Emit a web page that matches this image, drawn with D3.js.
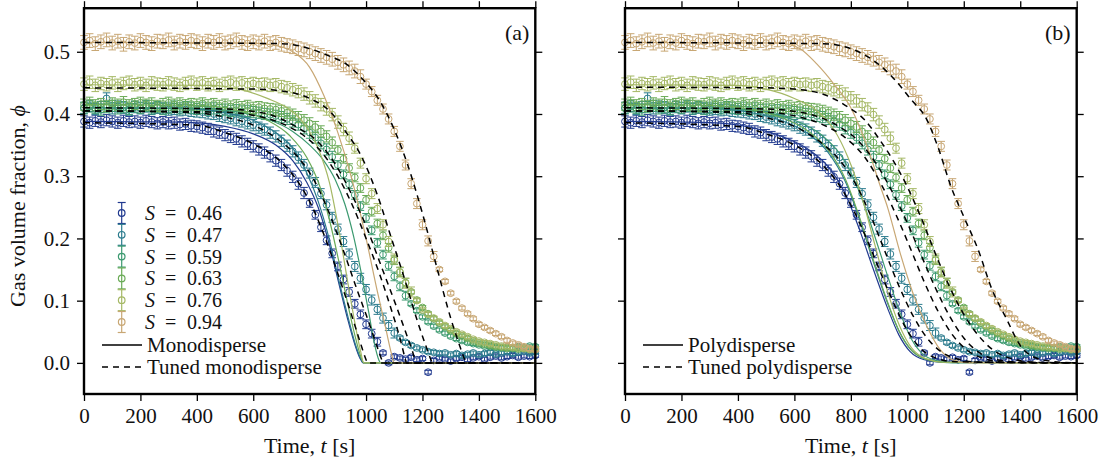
<!DOCTYPE html>
<html>
<head>
<meta charset="utf-8">
<script src="https://cdn.jsdelivr.net/npm/d3@7"></script>
<style>
  body { margin: 0; background: #fff; }
  svg, svg text { font-family: "Liberation Serif", "Times New Roman", Times, "DejaVu Serif", serif; }
  text { fill: #111; }
</style>
</head>
<body>
<svg id="chart" width="1106" height="465" font-family="Liberation Serif, Times New Roman, serif"></svg>
<script>
// sample times of the measurements [s]
const times = [0,20,40,60,80,100,120,140,160,180,200,220,240,260,280,300,320,340,360,380,
  400,420,440,460,480,500,520,540,560,580,600,620,640,660,680,700,720,740,760,780,
  800,820,840,860,880,900,920,940,960,980,1000,1020,1040,1060,1080,1100,1120,1140,1160,1180,
  1200,1220,1240,1260,1280,1300,1320,1340,1360,1380,1400,1420,1440,1460,1480,1500,1520,1540,1560,1580,1600];

const sLabels = ["0.46", "0.47", "0.59", "0.63", "0.76", "0.94"];
const colors = ["#213a8f", "#2b7b8d", "#3c9a70", "#6aab57", "#a5b865", "#c8a774"];
const FONT = '"Liberation Serif", "Times New Roman", serif';

// measured gas volume fraction
const phi046 = [0.388,0.386,0.389,0.387,0.390,0.388,0.386,0.389,0.387,0.388,0.386,0.389,0.387,0.385,0.387,0.385,0.386,0.383,0.384,0.381,
  0.380,0.378,0.376,0.372,0.370,0.366,0.363,0.360,0.356,0.352,0.348,0.343,0.338,0.332,0.325,0.318,0.309,0.299,0.288,0.273,
  0.257,0.238,0.218,0.197,0.176,0.155,0.134,0.114,0.095,0.078,0.062,0.047,0.034,0.016,0.000,0.010,0.008,0.006,0.009,0.005,
  0.007,-0.015,0.004,0.008,0.006,0.003,0.007,0.009,0.005,0.008,0.010,0.006,0.009,0.011,0.008,0.010,0.012,0.009,0.011,0.010,0.012];
const phi047 = [0.410,0.413,0.408,0.411,0.425,0.409,0.412,0.410,0.407,0.411,0.409,0.412,0.408,0.410,0.409,0.407,0.408,0.406,0.407,0.405,
  0.404,0.403,0.401,0.400,0.397,0.395,0.393,0.390,0.388,0.385,0.382,0.378,0.375,0.370,0.364,0.357,0.349,0.340,0.330,0.318,
  0.305,0.290,0.272,0.254,0.234,0.215,0.195,0.175,0.155,0.136,0.118,0.101,0.086,0.072,0.060,0.048,0.040,0.033,0.028,0.024,
  0.021,0.018,0.017,0.015,0.016,0.013,0.015,0.012,0.014,0.016,0.013,0.015,0.017,0.014,0.016,0.018,0.015,0.017,0.019,0.016,0.018];
const phi059 = [0.409,0.412,0.410,0.407,0.411,0.413,0.409,0.411,0.408,0.412,0.410,0.413,0.409,0.411,0.408,0.410,0.412,0.409,0.411,0.410,
  0.408,0.410,0.407,0.409,0.406,0.407,0.405,0.406,0.404,0.405,0.403,0.402,0.400,0.399,0.397,0.395,0.392,0.388,0.383,0.377,
  0.370,0.362,0.353,0.343,0.331,0.318,0.303,0.287,0.270,0.252,0.233,0.213,0.193,0.174,0.156,0.139,0.123,0.108,0.095,0.084,
  0.074,0.066,0.059,0.053,0.048,0.043,0.039,0.036,0.033,0.031,0.029,0.027,0.026,0.025,0.024,0.025,0.023,0.026,0.024,0.027,0.026];
const phi063 = [0.415,0.418,0.414,0.416,0.413,0.417,0.415,0.419,0.414,0.416,0.418,0.415,0.417,0.413,0.416,0.418,0.415,0.417,0.414,0.416,
  0.415,0.417,0.414,0.416,0.413,0.415,0.412,0.414,0.411,0.413,0.410,0.411,0.409,0.408,0.407,0.405,0.402,0.399,0.395,0.390,
  0.385,0.379,0.372,0.364,0.354,0.342,0.328,0.313,0.298,0.281,0.262,0.243,0.224,0.205,0.185,0.165,0.146,0.129,0.114,0.101,
  0.089,0.079,0.071,0.064,0.058,0.052,0.047,0.043,0.039,0.035,0.032,0.030,0.028,0.026,0.025,0.023,0.024,0.022,0.023,0.021,0.022];
const phi076 = [0.448,0.451,0.446,0.449,0.447,0.450,0.446,0.449,0.451,0.447,0.449,0.446,0.450,0.448,0.447,0.450,0.448,0.446,0.449,0.451,
  0.448,0.450,0.447,0.449,0.446,0.449,0.451,0.448,0.450,0.447,0.449,0.447,0.448,0.446,0.447,0.444,0.442,0.439,0.436,0.432,
  0.426,0.421,0.415,0.408,0.399,0.387,0.375,0.361,0.345,0.321,0.296,0.272,0.248,0.222,0.195,0.167,0.146,0.128,0.114,0.100,
  0.085,0.078,0.072,0.066,0.060,0.055,0.050,0.046,0.042,0.038,0.035,0.033,0.031,0.029,0.027,0.026,0.025,0.024,0.023,0.022,0.023];
const phi094 = [0.515,0.518,0.513,0.516,0.519,0.514,0.517,0.512,0.516,0.514,0.518,0.515,0.513,0.517,0.516,0.519,0.514,0.517,0.515,0.518,
  0.516,0.513,0.517,0.515,0.518,0.514,0.516,0.519,0.515,0.513,0.516,0.514,0.517,0.513,0.515,0.512,0.510,0.508,0.505,0.503,
  0.500,0.497,0.494,0.491,0.488,0.483,0.479,0.474,0.469,0.460,0.448,0.436,0.422,0.408,0.392,0.372,0.348,0.318,0.288,0.256,
  0.222,0.196,0.171,0.150,0.131,0.112,0.099,0.088,0.079,0.071,0.062,0.057,0.052,0.047,0.042,0.036,0.032,0.029,0.026,0.023,0.021];

// error bar half-heights: [from time, size]
const err046 = [[0, 0.009], [800, 0.007], [1060, 0.003]];
const err047 = [[0, 0.009], [800, 0.008], [1120, 0.003]];
const err059 = [[0, 0.009], [900, 0.007], [1150, 0.003]];
const err063 = [[0, 0.009], [900, 0.007], [1150, 0.003]];
const err076 = [[0, 0.010], [950, 0.008], [1180, 0.003]];
const err094 = [[0, 0.011], [1000, 0.008], [1250, 0.003]];

// monodisperse model
const mono046 = [[0,0.388],[350,0.387],[500,0.38],[600,0.368],[680,0.35],[740,0.325],[790,0.29],[830,0.25],[870,0.19],[905,0.125],[935,0.07],[960,0.03],[978,0.008],[990,0],[1600,0]];
const mono047 = [[0,0.41],[350,0.409],[500,0.402],[600,0.39],[680,0.37],[740,0.345],[790,0.305],[830,0.26],[870,0.198],[905,0.13],[937,0.072],[962,0.03],[980,0.008],[992,0],[1600,0]];
const mono059 = [[0,0.41],[400,0.409],[550,0.403],[650,0.392],[740,0.372],[800,0.35],[850,0.325],[890,0.295],[925,0.255],[955,0.205],[985,0.14],[1010,0.08],[1030,0.03],[1045,0.005],[1052,0],[1600,0]];
const mono063 = [[0,0.415],[400,0.414],[550,0.405],[650,0.39],[730,0.365],[790,0.33],[835,0.285],[870,0.23],[905,0.16],[935,0.095],[960,0.045],[980,0.012],[992,0],[1600,0]];
const mono076 = [[0,0.447],[450,0.446],[550,0.44],[650,0.425],[720,0.41],[780,0.385],[830,0.345],[870,0.29],[905,0.21],[935,0.13],[960,0.065],[980,0.02],[992,0],[1600,0]];
const mono094 = [[0,0.515],[600,0.514],[680,0.51],[740,0.5],[800,0.475],[850,0.43],[900,0.37],[950,0.295],[1000,0.2],[1040,0.115],[1070,0.055],[1090,0.015],[1100,0],[1600,0]];

// tuned monodisperse model
const tmono046 = [[0,0.386],[400,0.382],[500,0.37],[600,0.352],[700,0.322],[760,0.29],[810,0.25],[860,0.195],[910,0.13],[950,0.075],[980,0.032],[1000,0.005],[1005,0],[1600,0]];
const tmono047 = [[0,0.405],[400,0.402],[500,0.395],[600,0.382],[700,0.355],[760,0.33],[820,0.29],[870,0.24],[920,0.18],[970,0.115],[1010,0.065],[1040,0.025],[1058,0.003],[1062,0],[1600,0]];
const tmono059 = [[0,0.405],[500,0.403],[600,0.398],[700,0.385],[780,0.365],[840,0.34],[900,0.3],[950,0.255],[1000,0.2],[1050,0.14],[1090,0.085],[1120,0.04],[1138,0.008],[1143,0],[1600,0]];
const tmono063 = [[0,0.41],[500,0.408],[650,0.4],[750,0.38],[830,0.355],[890,0.32],[950,0.27],[1000,0.22],[1050,0.16],[1100,0.1],[1140,0.05],[1165,0.018],[1178,0],[1600,0]];
const tmono076 = [[0,0.442],[600,0.44],[700,0.437],[800,0.425],[870,0.405],[930,0.37],[980,0.335],[1040,0.27],[1090,0.2],[1140,0.13],[1180,0.07],[1210,0.03],[1230,0.005],[1235,0],[1600,0]];
const tmono094 = [[0,0.515],[700,0.513],[800,0.505],[870,0.493],[930,0.48],[990,0.455],[1050,0.42],[1100,0.375],[1150,0.315],[1200,0.24],[1250,0.155],[1300,0.072],[1330,0.03],[1350,0.005],[1355,0],[1600,0]];

// polydisperse model
const poly046 = [[0,0.388],[300,0.386],[450,0.378],[550,0.365],[650,0.343],[720,0.315],[780,0.272],[830,0.215],[880,0.15],[930,0.088],[970,0.045],[1010,0.018],[1060,0.005],[1120,0.001],[1600,0]];
const poly047 = [[0,0.41],[300,0.409],[450,0.402],[550,0.39],[650,0.368],[720,0.338],[780,0.292],[830,0.232],[880,0.162],[930,0.096],[972,0.05],[1015,0.02],[1065,0.006],[1130,0.001],[1600,0]];
const poly059 = [[0,0.41],[350,0.409],[500,0.402],[600,0.39],[700,0.365],[770,0.33],[830,0.275],[880,0.21],[930,0.14],[975,0.08],[1015,0.038],[1055,0.014],[1100,0.004],[1160,0],[1600,0]];
const poly063 = [[0,0.415],[300,0.414],[450,0.407],[550,0.395],[650,0.372],[720,0.342],[780,0.296],[830,0.235],[880,0.165],[930,0.098],[972,0.05],[1015,0.02],[1065,0.006],[1130,0.001],[1600,0]];
const poly076 = [[0,0.447],[400,0.446],[500,0.44],[600,0.425],[680,0.405],[740,0.375],[790,0.33],[840,0.265],[885,0.19],[930,0.115],[972,0.06],[1015,0.024],[1065,0.007],[1130,0.001],[1600,0]];
const poly094 = [[0,0.515],[550,0.514],[620,0.505],[680,0.48],[740,0.448],[800,0.41],[860,0.345],[905,0.283],[930,0.25],[975,0.176],[1020,0.112],[1070,0.058],[1115,0.022],[1160,0.005],[1220,0],[1600,0]];

// tuned polydisperse model
const tpoly046 = [[0,0.386],[400,0.38],[500,0.368],[600,0.35],[700,0.318],[760,0.285],[810,0.245],[860,0.195],[910,0.14],[960,0.088],[1000,0.052],[1050,0.022],[1100,0.008],[1170,0.002],[1600,0]];
const tpoly047 = [[0,0.405],[400,0.402],[500,0.394],[600,0.38],[700,0.352],[760,0.326],[820,0.285],[870,0.237],[920,0.18],[970,0.124],[1020,0.076],[1070,0.04],[1120,0.018],[1180,0.006],[1260,0.001],[1600,0]];
const tpoly059 = [[0,0.405],[500,0.403],[600,0.397],[700,0.383],[780,0.362],[850,0.33],[910,0.285],[960,0.238],[1010,0.185],[1060,0.13],[1110,0.082],[1160,0.045],[1210,0.021],[1270,0.007],[1350,0.001],[1600,0]];
const tpoly063 = [[0,0.41],[500,0.408],[650,0.4],[750,0.382],[830,0.355],[890,0.32],[950,0.272],[1000,0.225],[1050,0.172],[1100,0.12],[1150,0.075],[1200,0.04],[1250,0.018],[1310,0.006],[1400,0.001],[1600,0]];
const tpoly076 = [[0,0.443],[500,0.442],[600,0.44],[700,0.432],[780,0.414],[850,0.39],[900,0.36],[950,0.325],[1000,0.283],[1050,0.232],[1100,0.175],[1150,0.122],[1200,0.078],[1250,0.045],[1300,0.022],[1360,0.008],[1450,0.001],[1600,0]];
const tpoly094 = [[0,0.515],[700,0.513],[800,0.505],[880,0.486],[950,0.458],[1010,0.425],[1070,0.39],[1110,0.345],[1155,0.283],[1200,0.235],[1250,0.183],[1300,0.118],[1350,0.072],[1400,0.028],[1450,0.009],[1520,0.002],[1600,0]];

const xTicks = [0, 200, 400, 600, 800, 1000, 1200, 1400, 1600];
const yTicks = [0.0, 0.1, 0.2, 0.3, 0.4, 0.5];

const series = [phi046, phi047, phi059, phi063, phi076, phi094];
const errors = [err046, err047, err059, err063, err076, err094];

const panels = [
  { left: 84, right: 535.3, tag: "(a)", yLabels: true, showSeries: true,
    solid: [mono046, mono047, mono059, mono063, mono076, mono094],
    dashed: [tmono046, tmono047, tmono059, tmono063, tmono076, tmono094],
    names: ["Monodisperse", "Tuned monodisperse"], legX: 102 },
  { left: 625, right: 1076.7, tag: "(b)", yLabels: false, showSeries: false,
    solid: [poly046, poly047, poly059, poly063, poly076, poly094],
    dashed: [tpoly046, tpoly047, tpoly059, tpoly063, tpoly076, tpoly094],
    names: ["Polydisperse", "Tuned polydisperse"], legX: 643 }
];

const plotTop = 8.2, plotBottom = 394;
const svg = d3.select("#chart");
const y = d3.scaleLinear().domain([-0.05, 0.57]).range([plotBottom, plotTop]);

function errAt(steps, t) {
  let e = steps[0][1];
  steps.forEach(s => { if (t >= s[0]) e = s[1]; });
  return e;
}

function label(x, yy, size) {
  return svg.append("text").attr("x", x).attr("y", yy)
    .attr("font-size", size).attr("font-family", FONT).style("font-family", FONT);
}

panels.forEach(p => {
  const x = d3.scaleLinear().domain([0, 1600]).range([p.left, p.right]);
  const g = svg.append("g");

  // measurements with error bars
  series.forEach((vals, i) => {
    const sg = g.append("g").attr("stroke", colors[i]).attr("fill", "none").attr("stroke-width", 1);
    vals.forEach((v, j) => {
      const t = times[j];
      const e = errAt(errors[i], t);
      const cx = x(t);
      sg.append("line").attr("x1", cx).attr("x2", cx).attr("y1", y(v - e)).attr("y2", y(v + e));
      sg.append("line").attr("x1", cx - 3.8).attr("x2", cx + 3.8).attr("y1", y(v - e)).attr("y2", y(v - e));
      sg.append("line").attr("x1", cx - 3.8).attr("x2", cx + 3.8).attr("y1", y(v + e)).attr("y2", y(v + e));
      sg.append("circle").attr("cx", cx).attr("cy", y(v)).attr("r", 3.4);
    });
  });

  const line = d3.line().x(d => x(d[0])).y(d => y(d[1])).curve(d3.curveMonotoneX);

  p.solid.forEach((d, i) => {
    g.append("path").attr("d", line(d)).attr("fill", "none")
      .attr("stroke", colors[i]).attr("stroke-width", 1.2);
  });
  p.dashed.forEach(d => {
    g.append("path").attr("d", line(d)).attr("fill", "none")
      .attr("stroke", "#000").attr("stroke-width", 1.5).attr("stroke-dasharray", "6,5");
  });

  // axes on all four sides, ticks outward
  const ax = (gen, tr) => svg.append("g").attr("transform", tr).call(gen)
    .attr("font-family", FONT)
    .call(s => s.select(".domain").remove())
    .call(s => s.selectAll("line").attr("stroke", "#000").attr("stroke-width", 1.3))
    .call(s => s.selectAll("text").attr("font-size", 21).attr("fill", "#111")
      .style("font-family", FONT));

  ax(d3.axisBottom(x).tickValues(xTicks).tickSize(7).tickPadding(7).tickFormat(d3.format("d")), `translate(0,${plotBottom})`);
  ax(d3.axisTop(x).tickValues(xTicks).tickSize(7).tickFormat(""), `translate(0,${plotTop})`);
  ax(d3.axisLeft(y).tickValues(yTicks).tickSize(7).tickPadding(7)
      .tickFormat(p.yLabels ? d3.format(".1f") : ""), `translate(${p.left},0)`);
  ax(d3.axisRight(y).tickValues(yTicks).tickSize(7).tickFormat(""), `translate(${p.right},0)`);

  svg.append("rect").attr("x", p.left).attr("y", plotTop)
    .attr("width", p.right - p.left).attr("height", plotBottom - plotTop)
    .attr("fill", "none").attr("stroke", "#000").attr("stroke-width", 2.4);

  label(p.right - 6, 40, 22).attr("text-anchor", "end").text(p.tag);

  const xt = label((p.left + p.right) / 2, 453, 22).attr("text-anchor", "middle");
  xt.append("tspan").text("Time, ");
  xt.append("tspan").attr("font-style", "italic").text("t");
  xt.append("tspan").text(" [s]");

  // legend
  if (p.showSeries) {
    sLabels.forEach((s, i) => {
      const ly = 213 + i * 21.8, lx = 121.7;
      const lg = svg.append("g").attr("stroke", colors[i]).attr("fill", "none").attr("stroke-width", 1.2);
      lg.append("line").attr("x1", lx).attr("x2", lx).attr("y1", ly - 10.5).attr("y2", ly + 10.5);
      lg.append("line").attr("x1", lx - 4).attr("x2", lx + 4).attr("y1", ly - 10.5).attr("y2", ly - 10.5);
      lg.append("line").attr("x1", lx - 4).attr("x2", lx + 4).attr("y1", ly + 10.5).attr("y2", ly + 10.5);
      lg.append("circle").attr("cx", lx).attr("cy", ly).attr("r", 3.3);
      const lt = label(145, ly + 7, 20);
      lt.append("tspan").attr("font-style", "italic").text("S");
      lt.append("tspan").attr("x", 165).text("=");
      lt.append("tspan").attr("x", 187).text(s);
    });
  }
  p.names.forEach((n, i) => {
    const ly = 345 + i * 22;
    svg.append("line").attr("x1", p.legX).attr("x2", p.legX + 40).attr("y1", ly).attr("y2", ly)
      .attr("stroke", "#000").attr("stroke-width", 1.4)
      .attr("stroke-dasharray", i === 1 ? "6,5" : null);
    label(p.legX + 45, ly + 7, 21).text(n);
  });
});

// y axis title
const yt = svg.append("text").attr("transform", "translate(25,206) rotate(-90)")
  .attr("text-anchor", "middle").attr("font-size", 22)
  .attr("font-family", FONT).style("font-family", FONT);
yt.append("tspan").text("Gas volume fraction, ");
yt.append("tspan").attr("font-style", "italic").text("\u03D5");
</script>
</body>
</html>
